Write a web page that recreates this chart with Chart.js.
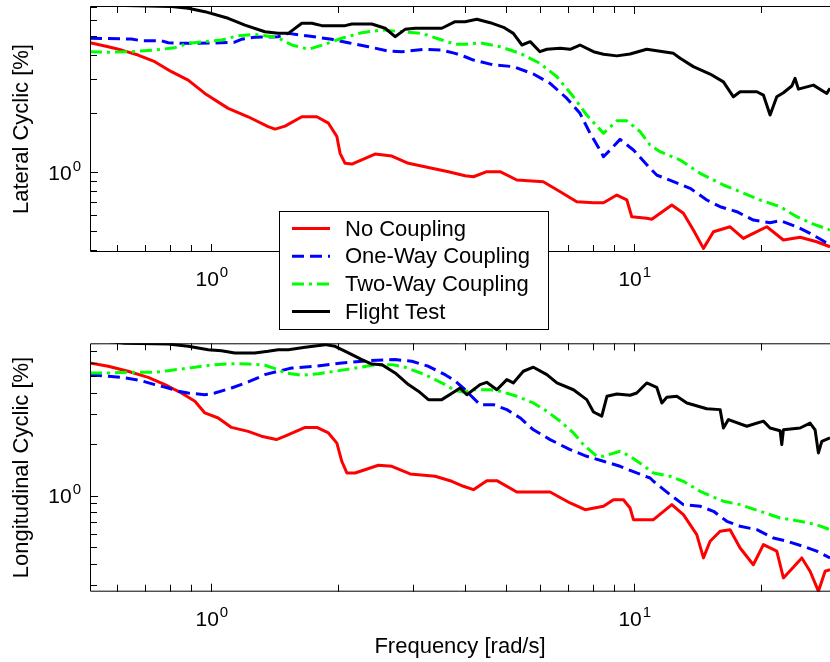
<!DOCTYPE html>
<html><head><meta charset="utf-8">
<script src="https://cdn.jsdelivr.net/npm/chart.js@4.4.1/dist/chart.umd.min.js"></script>
<style>
html,body{margin:0;padding:0;background:#fff;}
#wrap{position:relative;width:830px;height:662px;overflow:hidden;background:#fff;}
#c1{position:absolute;left:0;top:0;}
#c2{position:absolute;left:0;top:336px;}
</style></head><body>
<div id="wrap"><canvas id="c1" width="830" height="336"></canvas><canvas id="c2" width="830" height="326"></canvas></div>
<script>
const FONT = "'Liberation Sans', Arial, Helvetica, sans-serif";

const seriesNames = ['No Coupling', 'One-Way Coupling', 'Two-Way Coupling', 'Flight Test'];
const seriesColors = ['#ff0000', '#0000ff', '#00ff00', '#000000'];
const seriesDash = [[], [12, 6], [12, 5, 3, 5], []];

const xRange = [0.518, 29.1];
const latRange = [0.389, 7.10];
const lonRange = [0.274, 7.80];
const xTickValues = [0.6, 0.7, 0.8, 0.9, 1, 2, 3, 4, 5, 6, 7, 8, 9, 10, 20];
const xLabelValues = [1, 10];
const yTickValues = [0.3, 0.4, 0.5, 0.6, 0.7, 0.8, 0.9, 1, 2, 3, 4, 5, 6, 7];
const yLabelValues = [1];

// ---- Lateral Cyclic (top panel) ----
const latNoF = [0.518,0.572,0.615,0.673,0.737,0.807,0.884,0.968,1.099,1.225,1.366,1.419,1.498,1.641,1.781,1.897,1.986,2.021,2.077,2.155,2.445,2.679,2.932,3.331,3.646,3.992,4.177,4.493,4.83,5.29,6.11,6.70,7.33,8.03,8.48,9.12,9.63,9.89,10.73,11.03,12.30,13.10,13.83,14.61,15.43,16.89,18.16,19.17,20.63,22.58,24.73,27.07,29.1];
const latNoV = [4.60,4.39,4.22,3.98,3.68,3.27,2.96,2.53,2.12,1.92,1.71,1.66,1.72,1.92,1.92,1.78,1.52,1.247,1.108,1.099,1.237,1.208,1.108,1.045,1.004,0.957,0.946,1.004,1.004,0.910,0.892,0.793,0.704,0.696,0.696,0.762,0.719,0.590,0.579,0.572,0.677,0.614,0.504,0.406,0.494,0.524,0.457,0.485,0.524,0.448,0.463,0.439,0.414];

const latOneF = [0.518,0.649,0.685,0.764,0.793,0.852,0.933,1.060,1.139,1.181,1.270,1.442,1.525,1.701,1.932,2.115,2.358,2.630,2.828,3.211,3.516,3.781,3.992,4.177,4.66,5.19,5.79,6.34,6.94,7.46,7.88,8.32,8.48,8.79,9.28,9.98,10.93,11.33,12.41,13.59,14.88,16.0,17.52,19.17,21.0,22.18,24.29,26.11,27.83,29.1];
const latOneV = [4.85,4.81,4.71,4.71,4.60,4.57,4.57,4.60,4.63,4.79,4.91,4.94,5.14,4.98,4.79,4.60,4.39,4.17,4.14,4.26,4.22,4.06,3.90,3.75,3.54,3.47,3.18,2.85,2.39,2.00,1.58,1.297,1.198,1.297,1.47,1.297,1.045,0.965,0.892,0.825,0.719,0.664,0.626,0.567,0.550,0.563,0.524,0.485,0.448,0.422];

const latTwoF = [0.518,0.572,0.649,0.737,0.822,0.884,0.968,1.060,1.160,1.270,1.442,1.554,1.701,1.863,2.040,2.275,2.537,2.828,3.154,3.516,3.781,3.992,4.33,4.83,5.39,6.00,6.58,7.20,7.74,8.48,9.12,9.63,10.35,10.93,11.54,12.87,14.35,16.29,17.84,19.89,22.18,24.29,26.59,29.1];
const latTwoV = [4.14,4.11,4.14,4.22,4.34,4.57,4.66,4.75,5.00,5.08,4.88,4.48,4.26,4.52,4.85,5.18,5.35,5.24,5.14,4.75,4.52,4.52,4.60,4.39,4.06,3.61,3.08,2.43,1.96,1.58,1.83,1.83,1.61,1.375,1.271,1.152,0.985,0.858,0.793,0.719,0.664,0.590,0.541,0.504];

const latFlightF = [0.518,0.626,0.807,0.884,0.968,1.099,1.204,1.342,1.442,1.525,1.641,1.733,1.830,2.077,2.155,2.402,2.583,2.727,2.879,3.041,3.516,3.781,3.992,4.255,4.574,4.92,5.19,5.44,5.69,6.00,6.23,6.70,7.07,7.46,8.03,8.48,9.12,9.80,10.73,12.41,12.87,13.83,15.15,16.29,17.20,17.84,19.54,20.25,21.0,21.78,22.58,23.63,24.06,24.50,26.59,28.6,29.1];
const latFlightV = [7.6,7.15,7.05,6.91,6.64,6.14,5.67,5.24,5.14,5.14,5.79,5.79,5.63,5.63,5.74,5.74,5.46,4.94,5.39,5.46,5.46,5.90,5.90,6.07,5.83,5.52,5.14,4.48,4.66,4.14,4.26,4.31,4.26,4.48,4.14,4.02,3.94,4.03,4.26,4.06,3.83,3.47,3.18,2.90,2.43,2.58,2.58,2.48,1.96,2.43,2.55,2.76,3.02,2.66,2.79,2.53,2.69];

// ---- Longitudinal Cyclic (bottom panel) ----
const lonNoF = [0.518,0.572,0.637,0.711,0.779,0.852,0.917,0.968,1.041,1.119,1.225,1.317,1.429,1.498,1.671,1.781,1.897,1.986,2.040,2.097,2.193,2.490,2.679,2.959,3.391,3.713,3.956,4.177,4.493,4.745,5.29,6.34,7.07,7.67,8.48,8.95,9.45,9.80,9.98,11.13,12.30,13.10,14.09,14.61,15.15,16.0,16.89,17.84,19.17,20.25,21.78,22.58,24.96,26.11,27.32,28.34,29.1];
const lonNoV = [5.98,5.72,5.35,4.93,4.47,3.99,3.57,3.05,2.85,2.51,2.38,2.23,2.13,2.23,2.51,2.51,2.33,2.03,1.59,1.358,1.358,1.506,1.486,1.340,1.299,1.214,1.135,1.084,1.224,1.224,1.051,1.051,0.906,0.828,0.867,0.947,0.947,0.847,0.724,0.724,0.886,0.774,0.591,0.432,0.541,0.619,0.632,0.494,0.394,0.517,0.473,0.330,0.432,0.361,0.276,0.361,0.369];

const lonOneF = [0.518,0.572,0.615,0.685,0.737,0.793,0.837,0.884,0.968,1.022,1.119,1.225,1.342,1.442,1.554,1.764,2.040,2.358,2.727,2.987,3.269,3.580,3.781,3.992,4.10,4.33,4.66,5.01,5.39,5.79,6.34,7.07,7.74,8.48,9.28,10.16,10.93,11.13,12.18,13.10,14.35,15.43,16.59,17.84,19.54,21.38,23.0,25.18,27.07,29.1];
const lonOneV = [5.11,5.00,4.93,4.71,4.47,4.27,4.09,3.99,3.90,3.99,4.27,4.63,5.11,5.35,5.59,5.72,5.98,6.17,6.26,6.12,5.72,5.11,4.69,4.17,3.90,3.41,3.41,3.19,2.85,2.43,2.13,1.86,1.70,1.59,1.486,1.358,1.269,1.214,1.014,0.886,0.867,0.810,0.708,0.662,0.632,0.565,0.541,0.505,0.473,0.432];

const lonTwoF = [0.518,0.572,0.637,0.698,0.737,0.793,0.852,0.917,1.022,1.139,1.225,1.342,1.442,1.498,1.641,1.797,1.967,2.155,2.402,2.679,2.879,3.211,3.580,3.781,3.956,4.177,4.574,4.83,5.29,5.79,6.23,6.70,7.20,7.60,8.18,8.48,9.28,9.80,10.35,11.13,12.18,13.10,14.35,16.29,17.84,19.89,22.18,24.73,27.07,29.1];
const lonTwoV = [5.23,5.23,5.28,5.28,5.28,5.39,5.52,5.65,5.85,5.93,5.91,5.80,5.47,5.23,5.07,5.18,5.35,5.54,5.80,5.85,5.65,5.11,4.47,4.12,4.05,4.17,4.17,4.09,3.82,3.49,3.12,2.73,2.33,1.99,1.70,1.70,1.82,1.70,1.55,1.358,1.299,1.214,1.061,0.927,0.886,0.810,0.740,0.708,0.676,0.632];

const lonFlightF = [0.518,0.626,0.793,0.884,0.986,1.060,1.139,1.270,1.366,1.442,1.525,1.671,1.863,1.967,2.115,2.275,2.402,2.537,2.727,2.932,3.096,3.269,3.516,3.781,3.884,4.03,4.33,4.49,4.745,5.01,5.19,5.48,5.79,6.23,6.58,7.20,7.74,8.03,8.40,8.64,9.12,9.80,10.16,10.73,11.33,11.65,11.97,12.64,13.35,14.88,16.0,16.29,16.74,18.50,20.25,21.0,22.18,22.38,22.58,24.73,26.11,26.83,27.32,27.83,29.1];
const lonFlightV = [8.2,7.8,7.73,7.49,7.16,7.06,6.85,6.85,7.01,7.16,7.16,7.39,7.66,7.49,6.85,6.26,5.90,5.85,5.23,4.47,4.09,3.65,3.65,4.09,4.27,3.90,4.47,4.61,4.17,4.78,4.57,5.35,5.65,5.11,4.57,4.17,3.65,3.09,2.92,3.82,3.94,3.87,3.99,4.57,4.31,3.49,3.77,3.82,3.49,3.23,3.19,2.49,2.79,2.55,2.73,2.49,2.40,1.99,2.43,2.49,2.66,2.43,1.78,2.08,2.18];

function pts(f, v) { return f.map((x, i) => ({x: x, y: v[i]})); }

function makeDatasets(list) {
  return list.map((fv, i) => ({
    label: seriesNames[i],
    data: pts(fv[0], fv[1]),
    borderColor: seriesColors[i],
    backgroundColor: seriesColors[i],
    borderDash: seriesDash[i],
    borderWidth: 3,
    borderCapStyle: 'butt',
    borderJoinStyle: 'round',
    pointRadius: 0,
    tension: 0,
    fill: false,
    order: 3 - i
  }));
}

function drawPow(ctx, exp, x, baseY, align) {
  const bf = `21px ${FONT}`, ef = `15px ${FONT}`;
  ctx.font = bf; const wb = ctx.measureText('10').width;
  ctx.font = ef; const we = ctx.measureText(String(exp)).width + 1;
  let x0;
  if (align === 'center') x0 = x - (wb + we) / 2;
  else x0 = x - (wb + we);
  ctx.textAlign = 'left'; ctx.textBaseline = 'alphabetic';
  ctx.font = bf; ctx.fillText('10', x0, baseY);
  ctx.font = ef; ctx.fillText(String(exp), x0 + wb + 1, baseY - 9);
}

const frame = {
  id: 'frame',
  afterDatasetsDraw(chart) {
    const {ctx, chartArea: a} = chart;
    const xs = chart.scales.x, ys = chart.scales.y;
    ctx.save();
    ctx.strokeStyle = '#000'; ctx.lineWidth = 1; ctx.setLineDash([]);
    ctx.beginPath();
    ctx.moveTo(a.right + 2, a.top + 0.5); ctx.lineTo(a.left + 0.5, a.top + 0.5);
    ctx.lineTo(a.left + 0.5, a.bottom - 0.5); ctx.lineTo(a.right + 2, a.bottom - 0.5);
    ctx.stroke();
    ctx.beginPath();
    xTickValues.forEach(v => {
      const px = Math.round(xs.getPixelForValue(v)) + 0.5;
      const L = xLabelValues.includes(v) ? 8 : 7;
      ctx.moveTo(px, a.bottom); ctx.lineTo(px, a.bottom - L);
      ctx.moveTo(px, a.top); ctx.lineTo(px, a.top + L);
    });
    yTickValues.forEach(v => {
      if (v < ys.min || v > ys.max) return;
      const py = Math.round(ys.getPixelForValue(v)) + 0.5;
      const L = yLabelValues.includes(v) ? 8 : 7;
      ctx.moveTo(a.left, py); ctx.lineTo(a.left + L, py);
    });
    ctx.stroke();
    ctx.fillStyle = '#000';
    xLabelValues.forEach(v => {
      const px = xs.getPixelForValue(v);
      drawPow(ctx, Math.round(Math.log10(v)), px + 1, a.bottom + 34, 'center');
    });
    yLabelValues.forEach(v => {
      const py = ys.getPixelForValue(v);
      drawPow(ctx, Math.round(Math.log10(v)), a.left - 9, py + 7.5, 'right');
    });
    ctx.restore();
  }
};

const legendBox = {
  id: 'legendBox',
  afterDraw(chart) {
    const ctx = chart.ctx;
    ctx.save();
    ctx.fillStyle = '#fff';
    ctx.fillRect(279.5, 211.5, 269, 118);
    ctx.strokeStyle = '#000'; ctx.lineWidth = 1; ctx.setLineDash([]);
    ctx.strokeRect(279.5, 211.5, 269, 118);
    chart.data.datasets.forEach((ds, i) => {
      const yy = 228.5 + i * 27.7;
      ctx.beginPath();
      ctx.strokeStyle = ds.borderColor; ctx.lineWidth = 3; ctx.lineCap = 'butt';
      ctx.setLineDash(ds.borderDash || []);
      ctx.moveTo(292, yy); ctx.lineTo(330, yy); ctx.stroke();
      ctx.setLineDash([]);
      ctx.fillStyle = '#000';
      ctx.font = `22px ${FONT}`; ctx.textAlign = 'left'; ctx.textBaseline = 'middle';
      ctx.fillText(ds.label, 345, yy + 1);
    });
    ctx.restore();
  }
};

function makeChart(id, datasets, yRange, yTitle, xTitle, padTop, xHeight, extraPlugins) {
  return new Chart(document.getElementById(id), {
    type: 'line',
    data: {datasets: datasets},
    plugins: [frame].concat(extraPlugins),
    options: {
      responsive: false,
      animation: false,
      devicePixelRatio: 1,
      layout: {padding: {top: padTop, right: 0, left: 0, bottom: 0}},
      plugins: {legend: {display: false}, tooltip: {enabled: false}},
      scales: {
        x: {
          type: 'logarithmic', min: xRange[0], max: xRange[1],
          grid: {display: false}, border: {display: false},
          ticks: {display: false},
          title: {display: !!xTitle, text: xTitle || '', color: '#000',
                  font: {family: FONT, size: 22}, padding: {top: 0, bottom: 2}},
          afterFit: s => { s.height = xHeight; }
        },
        y: {
          type: 'logarithmic', min: yRange[0], max: yRange[1],
          grid: {display: false}, border: {display: false},
          ticks: {display: false},
          title: {display: true, text: yTitle, color: '#000',
                  font: {family: FONT, size: 22}, padding: {top: 9, bottom: 0}},
          afterFit: s => { s.width = 90; }
        }
      }
    }
  });
}

makeChart('c1', makeDatasets([[latNoF, latNoV], [latOneF, latOneV], [latTwoF, latTwoV], [latFlightF, latFlightV]]),
  latRange, 'Lateral Cyclic [%]', null, 6, 84, [legendBox]);
makeChart('c2', makeDatasets([[lonNoF, lonNoV], [lonOneF, lonOneV], [lonTwoF, lonTwoV], [lonFlightF, lonFlightV]]),
  lonRange, 'Longitudinal Cyclic [%]', 'Frequency [rad/s]', 7.3, 70.3, []);
</script>
</body></html>
